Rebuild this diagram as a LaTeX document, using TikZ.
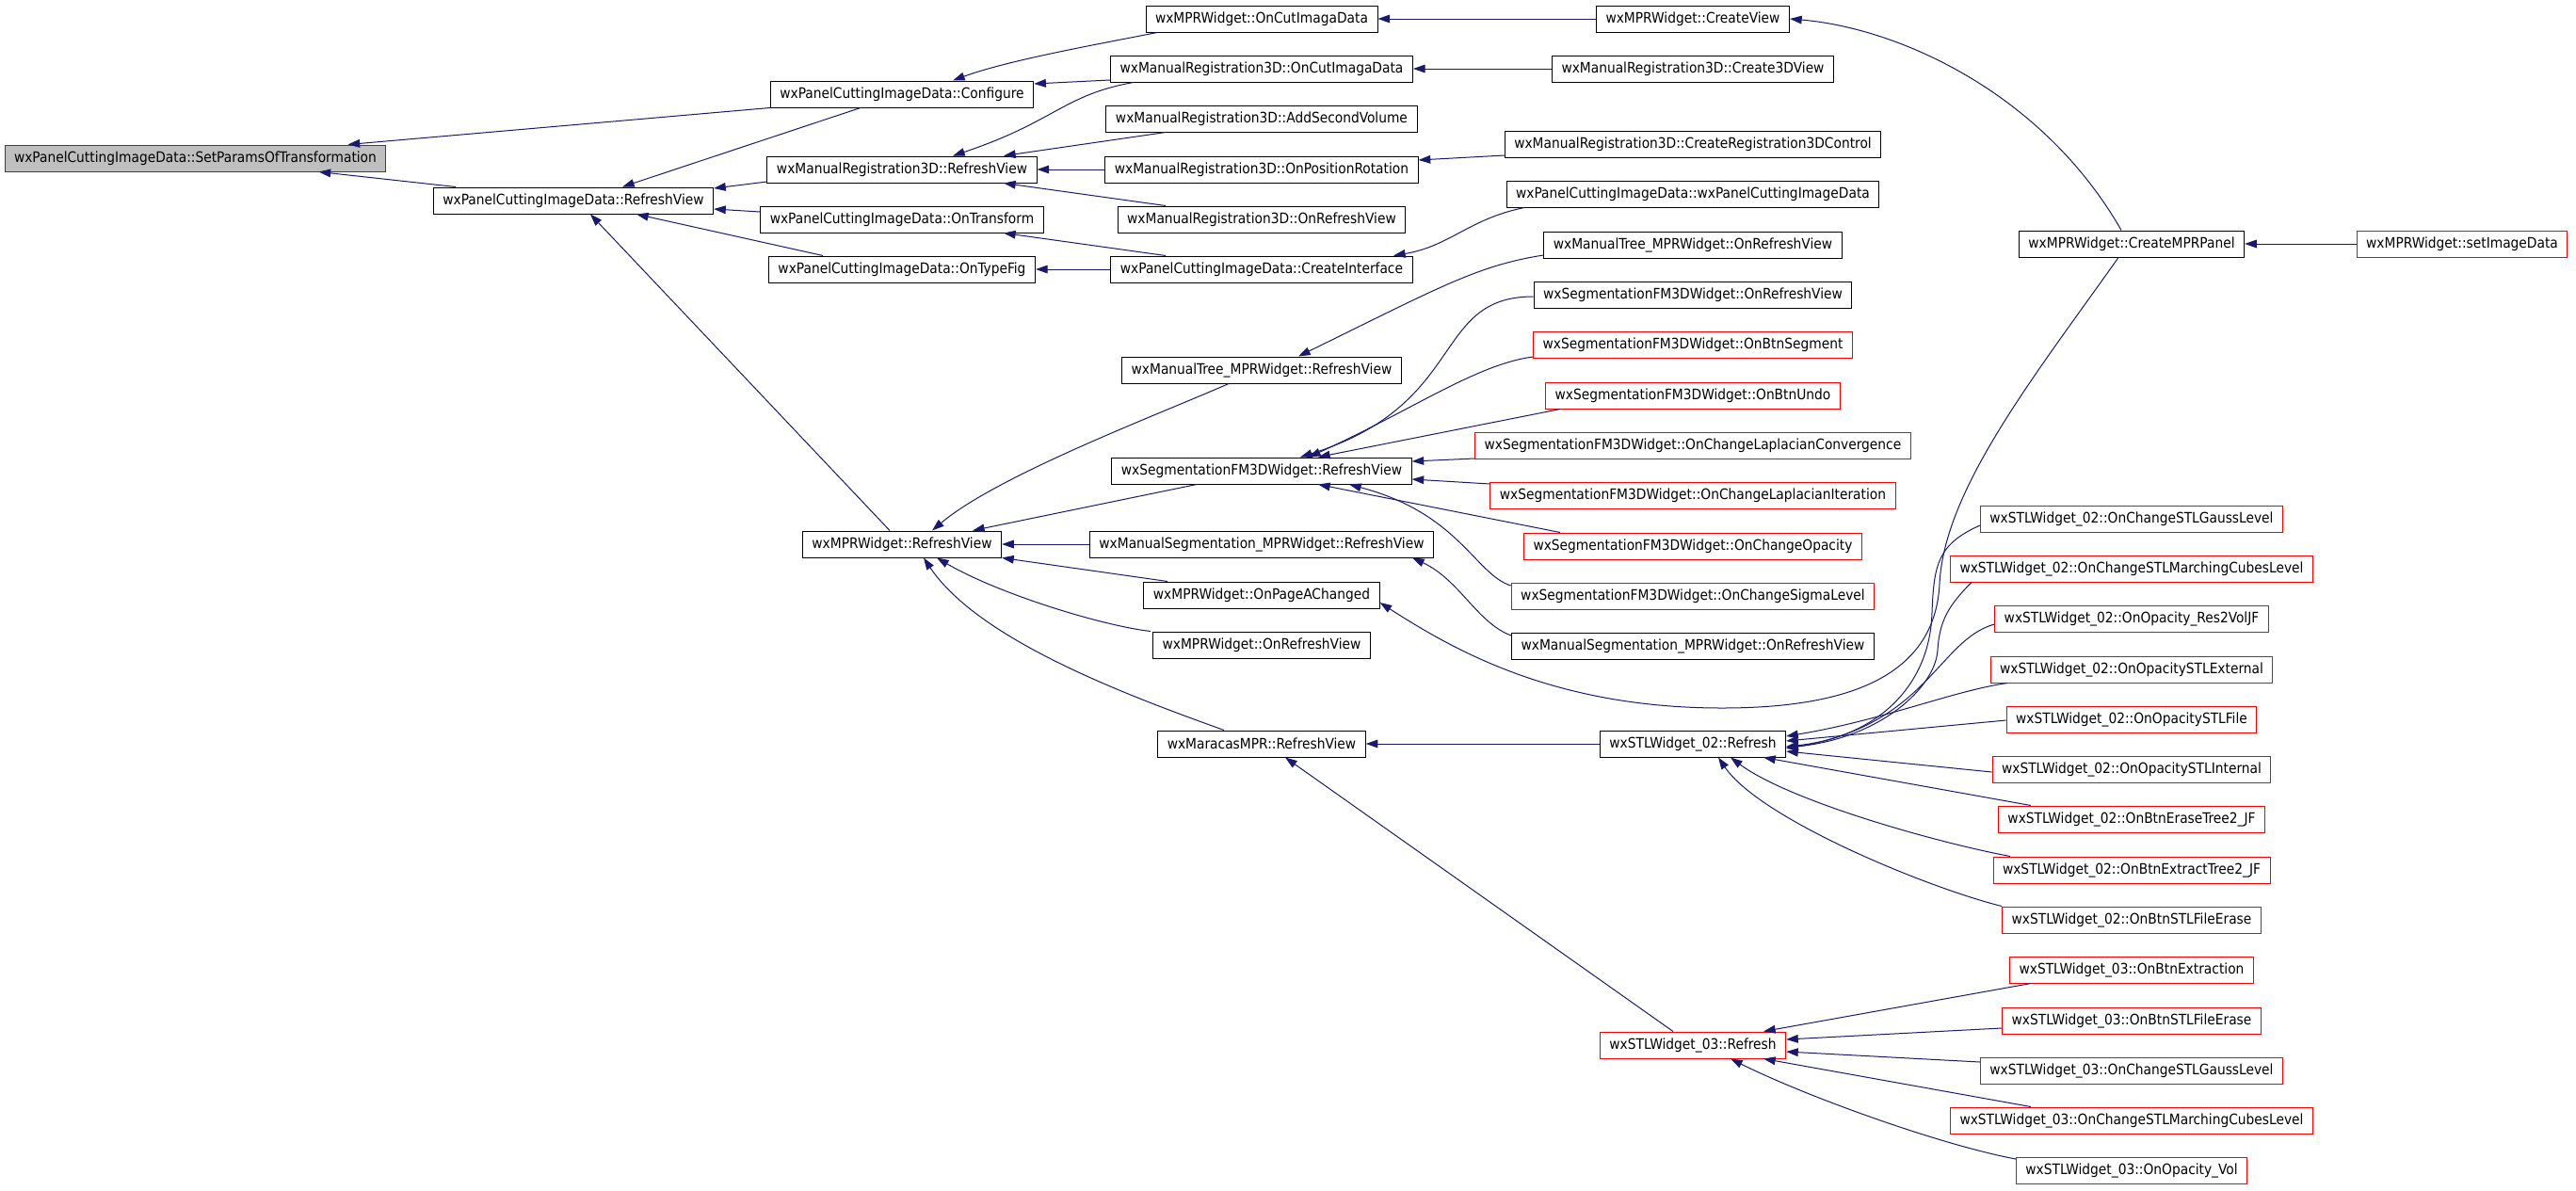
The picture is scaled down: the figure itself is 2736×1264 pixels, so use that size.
\documentclass[tikz,border=0pt]{standalone}
\usepackage{fontspec}
\setmainfont{DejaVu Sans Condensed}
\usetikzlibrary{arrows.meta,calc}
\definecolor{edgeblue}{RGB}{25,25,112}
\definecolor{rootfill}{RGB}{191,191,191}
\definecolor{rootline}{RGB}{64,64,64}
\tikzset{every picture/.style={line width=0.75pt}}
\tikzset{
  fn/.style={draw=black, fill=white, font=\fontsize{11.5}{13}\selectfont, minimum height=21pt, inner xsep=7.5pt, inner ysep=0pt},
  fnred/.style={fn, draw=red},
  fnroot/.style={fn, draw=rootline, fill=rootfill},
  call/.style={draw=edgeblue, -{Triangle[length=9.5pt,width=6.5pt]}},
}

\begin{document}
\begin{tikzpicture}[x=0.75pt,y=0.75pt,yscale=-1,xscale=1]
%set diagram left start at 0, and has height of 1264
\path[fill=white] (0,0) rectangle (2736,1264);
\useasboundingbox (0,0) rectangle (2736,1264);

% Text Node
\node[fnroot] (setParams) at (207.5,168) {wxPanelCuttingImageData::SetParamsOfTransformation};
% Text Node
\node[fn] (pcRefresh) at (609,213) {wxPanelCuttingImageData::RefreshView};
% Text Node
\node[fn] (pcConfigure) at (958,100) {wxPanelCuttingImageData::Configure};
% Text Node
\node[fn] (mrRefresh) at (958,180) {wxManualRegistration3D::RefreshView};
% Text Node
\node[fn] (pcTransform) at (958,233) {wxPanelCuttingImageData::OnTransform};
% Text Node
\node[fn] (pcTypeFig) at (958,286) {wxPanelCuttingImageData::OnTypeFig};
% Text Node
\node[fn] (mprRefresh) at (958,578) {wxMPRWidget::RefreshView};
% Text Node
\node[fn] (mprCut) at (1340,20) {wxMPRWidget::OnCutImagaData};
% Text Node
\node[fn] (mrCut) at (1340,73) {wxManualRegistration3D::OnCutImagaData};
% Text Node
\node[fn] (mrAddVol) at (1340,126) {wxManualRegistration3D::AddSecondVolume};
% Text Node
\node[fn] (mrPosRot) at (1340,180) {wxManualRegistration3D::OnPositionRotation};
% Text Node
\node[fn] (mrOnRefresh) at (1340,233) {wxManualRegistration3D::OnRefreshView};
% Text Node
\node[fn] (pcInterface) at (1340,286) {wxPanelCuttingImageData::CreateInterface};
% Text Node
\node[fn] (mtRefresh) at (1340,393) {wxManualTree\_MPRWidget::RefreshView};
% Text Node
\node[fn] (segRefresh) at (1340,500) {wxSegmentationFM3DWidget::RefreshView};
% Text Node
\node[fn] (msRefresh) at (1340,578) {wxManualSegmentation\_MPRWidget::RefreshView};
% Text Node
\node[fn] (mprPageA) at (1340,632) {wxMPRWidget::OnPageAChanged};
% Text Node
\node[fn] (mprOnRefresh) at (1340,685) {wxMPRWidget::OnRefreshView};
% Text Node
\node[fn] (maracasRefresh) at (1340,790) {wxMaracasMPR::RefreshView};
% Text Node
\node[fn] (mprCreateView) at (1798,20) {wxMPRWidget::CreateView};
% Text Node
\node[fn] (mrCreate3D) at (1798,73) {wxManualRegistration3D::Create3DView};
% Text Node
\node[fn] (mrCreateCtrl) at (1798,153) {wxManualRegistration3D::CreateRegistration3DControl};
% Text Node
\node[fn] (pcCtor) at (1798,206) {wxPanelCuttingImageData::wxPanelCuttingImageData};
% Text Node
\node[fn] (mtOnRefresh) at (1798,260) {wxManualTree\_MPRWidget::OnRefreshView};
% Text Node
\node[fn] (segOnRefresh) at (1798,313) {wxSegmentationFM3DWidget::OnRefreshView};
% Text Node
\node[fnred] (segBtnSegment) at (1798,366) {wxSegmentationFM3DWidget::OnBtnSegment};
% Text Node
\node[fnred] (segBtnUndo) at (1798,420) {wxSegmentationFM3DWidget::OnBtnUndo};
% Text Node
\node[fnred] (segLapConv) at (1798,473) {wxSegmentationFM3DWidget::OnChangeLaplacianConvergence};
% Text Node
\node[fnred] (segLapIter) at (1798,526) {wxSegmentationFM3DWidget::OnChangeLaplacianIteration};
% Text Node
\node[fnred] (segOpacity) at (1798,580) {wxSegmentationFM3DWidget::OnChangeOpacity};
% Text Node
\node[fnred] (segSigma) at (1798,633) {wxSegmentationFM3DWidget::OnChangeSigmaLevel};
% Text Node
\node[fn] (msOnRefresh) at (1798,686) {wxManualSegmentation\_MPRWidget::OnRefreshView};
% Text Node
\node[fn] (stlTwoRefresh) at (1798,790) {wxSTLWidget\_02::Refresh};
% Text Node
\node[fnred] (stlThreeRefresh) at (1798,1110) {wxSTLWidget\_03::Refresh};
% Text Node
\node[fn] (mprPanel) at (2264,259) {wxMPRWidget::CreateMPRPanel};
% Text Node
\node[fnred] (mprSetImage) at (2615,259) {wxMPRWidget::setImageData};
% Text Node
\node[fnred] (stlTwoGauss) at (2264,551) {wxSTLWidget\_02::OnChangeSTLGaussLevel};
% Text Node
\node[fnred] (stlTwoMarch) at (2264,604) {wxSTLWidget\_02::OnChangeSTLMarchingCubesLevel};
% Text Node
\node[fnred] (stlTwoRes) at (2264,657) {wxSTLWidget\_02::OnOpacity\_Res2VolJF};
% Text Node
\node[fnred] (stlTwoExt) at (2264,711) {wxSTLWidget\_02::OnOpacitySTLExternal};
% Text Node
\node[fnred] (stlTwoFile) at (2264,764) {wxSTLWidget\_02::OnOpacitySTLFile};
% Text Node
\node[fnred] (stlTwoInt) at (2264,817) {wxSTLWidget\_02::OnOpacitySTLInternal};
% Text Node
\node[fnred] (stlTwoErase) at (2264,870) {wxSTLWidget\_02::OnBtnEraseTree2\_JF};
% Text Node
\node[fnred] (stlTwoExtract) at (2264,924) {wxSTLWidget\_02::OnBtnExtractTree2\_JF};
% Text Node
\node[fnred] (stlTwoFileErase) at (2264,977) {wxSTLWidget\_02::OnBtnSTLFileErase};
% Text Node
\node[fnred] (stlThreeExtr) at (2264,1030) {wxSTLWidget\_03::OnBtnExtraction};
% Text Node
\node[fnred] (stlThreeFileErase) at (2264,1084) {wxSTLWidget\_03::OnBtnSTLFileErase};
% Text Node
\node[fnred] (stlThreeGauss) at (2264,1137) {wxSTLWidget\_03::OnChangeSTLGaussLevel};
% Text Node
\node[fnred] (stlThreeMarch) at (2264,1190) {wxSTLWidget\_03::OnChangeSTLMarchingCubesLevel};
% Text Node
\node[fnred] (stlThreeVol) at (2264,1243) {wxSTLWidget\_03::OnOpacity\_Vol};

%Straight Lines
\draw[call] (pcConfigure.south west) -- ($(setParams.north)+(162,0)$);
%Straight Lines
\draw[call] ($(pcRefresh.north)+(-125,0)$) -- ($(setParams.south)+(131,0)$);
%Straight Lines
\draw[call] ($(pcConfigure.south)+(-44,0)$) -- ($(pcRefresh.north)+(52,0)$);
%Straight Lines
\draw[call] ($(mrRefresh.west)+(0,13)$) -- ($(pcRefresh.east)+(0,-13)$);
%Straight Lines
\draw[call] ($(pcTransform.west)+(0,-8)$) -- ($(pcRefresh.east)+(0,9)$);
%Straight Lines
\draw[call] ($(pcTypeFig.north)+(-84,0)$) -- ($(pcRefresh.south)+(67,0)$);
%Straight Lines
\draw[call] ($(mprRefresh.north)+(-13,0)$) -- ($(pcRefresh.south)+(18,0)$);

%Curve Lines
\draw[call] ($(mprCut.south)+(-111,0)$) .. controls +(-60,12) and +(60,-22) .. ($(pcConfigure.north)+(54,0)$);
%Straight Lines
\draw[call] ($(mrCut.west)+(0,12)$) -- ($(pcConfigure.east)+(0,-11)$);
%Curve Lines
\draw[call] ($(mrCut.south)+(-136,0)$) .. controls +(-74,13) and +(108,-36) .. ($(mrRefresh.north)+(54,0)$);
%Straight Lines
\draw[call] ($(mrAddVol.south)+(-102,0)$) -- ($(mrRefresh.north)+(108,0)$);
%Straight Lines
\draw[call] (mrPosRot.west) -- (mrRefresh.east);
%Straight Lines
\draw[call] ($(mrOnRefresh.north)+(-102,0)$) -- ($(mrRefresh.south)+(108,0)$);
%Straight Lines
\draw[call] ($(pcInterface.north)+(-102,0)$) -- ($(pcTransform.south)+(108,0)$);
%Straight Lines
\draw[call] (pcInterface.west) -- (pcTypeFig.east);

%Straight Lines
\draw[call] (mprCreateView.west) -- (mprCut.east);
%Straight Lines
\draw[call] (mrCreate3D.west) -- (mrCut.east);
%Straight Lines
\draw[call] ($(mrCreateCtrl.west)+(0,12)$) -- ($(mrPosRot.east)+(0,-10)$);
%Curve Lines
\draw[call] ($(pcCtor.south)+(-179,0)$) .. controls +(-59,12) and +(60,-10) .. ($(pcInterface.north)+(140,0)$);
%Curve Lines
\draw[call] ($(mprPanel.north)+(-11,0)$) .. controls +(-83,-145) and +(117,10) .. (mprCreateView.east);
%Straight Lines
\draw[call] (mprSetImage.west) -- (mprPanel.east);

%Curve Lines
\draw[call] ($(mtRefresh.south)+(-35,0)$) .. controls +(-75,33) and +(70,-59) .. ($(mprRefresh.north)+(32,0)$);
%Curve Lines
\draw[call] ($(mtOnRefresh.west)+(0,11)$) .. controls +(-70,11) and +(151,-74) .. ($(mtRefresh.north)+(39,0)$);
%Straight Lines
\draw[call] ($(segRefresh.south)+(-69,0)$) -- ($(mprRefresh.north)+(75,0)$);
%Straight Lines
\draw[call] (msRefresh.west) -- (mprRefresh.east);
%Straight Lines
\draw[call] ($(mprPageA.north)+(-100,0)$) -- (mprRefresh.south east);
%Curve Lines
\draw[call] ($(mprOnRefresh.north)+(-118,0)$) .. controls +(-52,-6) and +(65,38) .. ($(mprRefresh.south)+(37,0)$);
%Curve Lines
\draw[call] ($(maracasRefresh.north)+(-40,0)$) .. controls +(-100,-36) and +(59,88) .. ($(mprRefresh.south)+(23,0)$);

%Curve Lines
\draw[call] ($(segOnRefresh.west)+(0,2)$) .. controls +(-109,0) and +(179,-56) .. ($(segRefresh.north)+(41,0)$);
%Curve Lines
\draw[call] ($(segBtnSegment.west)+(0,13)$) .. controls +(-60,8) and +(110,-50) .. ($(segRefresh.north)+(50,0)$);
%Straight Lines
\draw[call] ($(segBtnUndo.south)+(-141,0)$) -- ($(segRefresh.north)+(60,0)$);
%Straight Lines
\draw[call] ($(segLapConv.west)+(0,14)$) -- ($(segRefresh.east)+(0,-10)$);
%Straight Lines
\draw[call] ($(segLapIter.west)+(0,-12)$) -- ($(segRefresh.east)+(0,9)$);
%Straight Lines
\draw[call] ($(segOpacity.north)+(-141,0)$) -- ($(segRefresh.south)+(60,0)$);
%Curve Lines
\draw[call] ($(segSigma.west)+(0,-11)$) .. controls +(-38,-12) and +(117,31) .. ($(segRefresh.south)+(93,0)$);
%Curve Lines
\draw[call] ($(msOnRefresh.west)+(0,-11)$) .. controls +(-36,-13) and +(50,23) .. ($(msRefresh.south)+(160,0)$);

%Curve Lines
\draw[call] ($(mprPanel.south)+(-14,0)$) .. controls +(-90,127) and +(5,-100) .. (2060,620) .. controls +(-5,100) and +(131,0) .. (1829,752) .. controls +(-179,0) and +(78,50) .. ($(mprPageA.east)+(0,8)$);

%Straight Lines
\draw[call] (stlTwoRefresh.west) -- (maracasRefresh.east);
%Straight Lines
\draw[call] ($(stlThreeRefresh.north)+(-21,0)$) -- ($(maracasRefresh.south)+(25,0)$);

%Curve Lines
\draw[call] ($(stlTwoGauss.west)+(0,7)$) .. controls +(-45,20) and +(2,-50) .. (2052,650) .. controls +(-2,80) and +(95,-10) .. ($(stlTwoRefresh.east)+(0,3)$);
%Curve Lines
\draw[call] ($(stlTwoMarch.south)+(-170,0)$) .. controls +(-25,25) and +(2,-30) .. (2058,690) .. controls +(-2,40) and +(100,-10) .. ($(stlTwoRefresh.east)+(0,4)$);
%Curve Lines
\draw[call] ($(stlTwoRes.west)+(0,6)$) .. controls +(-60,17) and +(150,-25) .. ($(stlTwoRefresh.east)+(0,5)$);
%Curve Lines
\draw[call] ($(stlTwoExt.south)+(-132,0)$) .. controls +(-57,8) and +(103,-17) .. ($(stlTwoRefresh.east)+(0,-8)$);
%Straight Lines
\draw[call] ($(stlTwoFile.west)+(0,1)$) -- ($(stlTwoRefresh.east)+(0,-3)$);
%Straight Lines
\draw[call] ($(stlTwoInt.west)+(0,3)$) -- ($(stlTwoRefresh.east)+(0,8)$);
%Straight Lines
\draw[call] ($(stlTwoErase.north)+(-107,0)$) -- ($(stlTwoRefresh.south)+(75,0)$);
%Curve Lines
\draw[call] ($(stlTwoExtract.north)+(-129,0)$) .. controls +(-80,-15) and +(62,46) .. ($(stlTwoRefresh.south)+(40,0)$);
%Curve Lines
\draw[call] (stlTwoFileErase.north west) .. controls +(-77,-19) and +(45,66) .. ($(stlTwoRefresh.south)+(27,0)$);

%Straight Lines
\draw[call] ($(stlThreeExtr.south)+(-107,0)$) -- ($(stlThreeRefresh.north)+(75,0)$);
%Straight Lines
\draw[call] ($(stlThreeFileErase.west)+(0,8)$) -- ($(stlThreeRefresh.east)+(0,-6)$);
%Straight Lines
\draw[call] ($(stlThreeGauss.west)+(0,-9)$) -- ($(stlThreeRefresh.east)+(0,7)$);
%Straight Lines
\draw[call] ($(stlThreeMarch.north)+(-107,0)$) -- ($(stlThreeRefresh.south)+(75,0)$);
%Curve Lines
\draw[call] ($(stlThreeVol.west)+(0,-12)$) .. controls +(-80,-15) and +(80,40) .. ($(stlThreeRefresh.south)+(40,0)$);

\end{tikzpicture}
\end{document}
